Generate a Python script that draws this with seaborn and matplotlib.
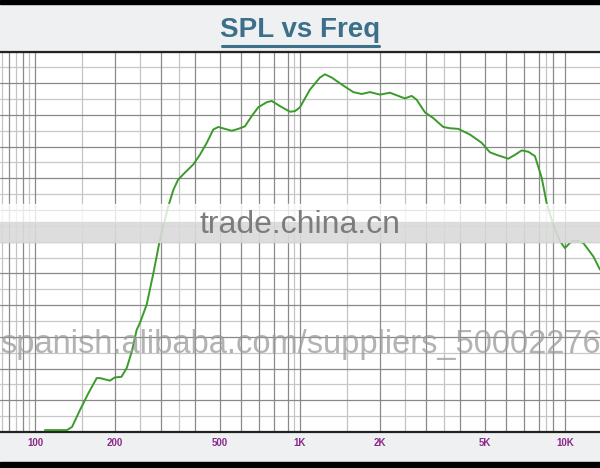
import matplotlib
matplotlib.use("Agg")
import matplotlib.pyplot as plt
import seaborn as sns
import pandas as pd
from matplotlib.ticker import FixedLocator, FixedFormatter, NullFormatter
from matplotlib.lines import Line2D
from matplotlib.patches import Rectangle

# ---------------- data ----------------
freq_hz = [109, 132, 138, 148, 159, 171, 176, 192, 200, 212, 222, 232, 242, 249,
           264, 280, 296, 318, 333, 347, 368, 396, 419, 445, 471, 492, 521, 553,
           585, 620, 657, 696, 749, 782, 840, 917, 958, 1000, 1091, 1190, 1243,
           1317, 1437, 1589, 1709, 1837, 2004, 2186, 2349, 2490, 2639, 2756,
           2963, 3184, 3473, 3681, 3957, 4381, 4850, 5212, 5525, 6110, 6477,
           6866, 7268, 7704, 8170, 8530, 9030, 9575, 10000, 10600, 11220, 11730,
           12790, 13560]
spl_db = [40.3, 40.3, 40.8, 43.5, 46.1, 48.5, 48.5, 48.1, 48.6, 48.7, 50.1, 52.7,
          56.1, 57.2, 60.1, 65.1, 70.3, 75.5, 78.2, 79.8, 80.9, 82.2, 83.7, 85.6,
          87.7, 88.1, 87.8, 87.5, 87.8, 88.2, 89.8, 91.2, 92.0, 92.2, 91.4, 90.5,
          90.6, 91.2, 94.0, 95.9, 96.4, 95.9, 94.8, 93.6, 93.3, 93.6, 93.2, 93.5,
          93.0, 92.6, 93.0, 92.4, 90.4, 89.5, 88.1, 87.9, 87.8, 86.9, 85.6, 84.1,
          83.7, 83.1, 83.7, 84.4, 84.2, 83.5, 80.1, 76.1, 72.7, 70.1, 69.0, 70.1,
          70.1, 69.8, 67.7, 65.6]

x_tick_values = [100, 200, 500, 1000, 2000, 5000, 10000]
x_tick_labels = ["100", "200", "500", "1K", "2K", "5K", "10K"]
grid_major_hz = [80, 90, 100, 200, 300, 400, 500, 600, 700, 800, 900, 1000,
                 2000, 3000, 4000, 5000, 6000, 7000, 8000, 9000, 10000]
grid_minor_hz = [75, 85, 95, 150, 250, 350, 950, 1500, 2500, 3500, 8500]
y_major_db = [40, 45, 50, 55, 60, 65, 70, 75, 80, 85, 90, 95, 100]
y_minor_db = [42.5, 47.5, 52.5, 57.5, 62.5, 67.5, 72.5, 77.5, 82.5, 87.5, 92.5, 97.5]
title_text = "SPL vs Freq"
watermark_1 = "trade.china.cn"
watermark_2 = "spanish.alibaba.com/suppliers_50002276"

# ---------------- style ----------------
sns.set_theme(style="white")
plt.rcParams["font.family"] = ["Liberation Sans", "DejaVu Sans"]

W, H = 600, 468
fig = plt.figure(figsize=(6, 4.68), dpi=100, facecolor="#eef0f1")

def fy(py):
    return 1 - py / H

ax = fig.add_axes([0, fy(432), 1, (432 - 51.5) / H])
ax.set_facecolor("white")

df = pd.DataFrame({"freq": freq_hz, "spl": spl_db})
sns.lineplot(data=df, x="freq", y="spl", ax=ax, color="#3a9b2a",
             linewidth=1.4, zorder=6, estimator=None)

ax.set_xscale("log")
ax.set_xlim(73.8, 13560)
ax.set_ylim(40, 100)

# vertical grid
for f in grid_minor_hz:
    ax.axvline(f, color="#c4c4c4", lw=0.9, zorder=1)
for f in grid_major_hz:
    ax.axvline(f, color="#8a8a8a", lw=0.9, zorder=2)
# horizontal grid
for v in y_minor_db:
    ax.axhline(v, color="#c8c8c8", lw=0.9, zorder=1)
for v in y_major_db:
    ax.axhline(v, color="#888888", lw=0.9, zorder=2)

ax.xaxis.set_major_locator(FixedLocator(x_tick_values))
ax.xaxis.set_major_formatter(FixedFormatter(x_tick_labels))
ax.xaxis.set_minor_locator(FixedLocator([]))
ax.xaxis.set_minor_formatter(NullFormatter())
ax.set_yticks([])
ax.tick_params(axis="x", length=0, pad=4, labelsize=7, labelcolor="#8a2a8c")
for lbl in ax.get_xticklabels():
    lbl.set_fontweight("bold")
ax.set_xlabel("")
ax.set_ylabel("")
ax.grid(False)

for side in ["left", "right"]:
    ax.spines[side].set_visible(False)
for side in ["top", "bottom"]:
    ax.spines[side].set_visible(True)
    ax.spines[side].set_color("#222222")
    ax.spines[side].set_linewidth(1.6)
    ax.spines[side].set_zorder(5)

# title with underline
fig.text(0.5, fy(30), title_text, ha="center", va="center", fontsize=20,
         fontweight="bold", color="#3b6f8a")
fig.add_artist(Line2D([222 / W, 379 / W], [fy(46), fy(46)], color="#3b6f8a",
                      lw=2.2, transform=fig.transFigure))

# black frame bars
fig.add_artist(Rectangle((0, fy(4)), 1, 4 / H, transform=fig.transFigure,
                         color="black", zorder=10))
fig.add_artist(Rectangle((0, 0), 1, 6 / H, transform=fig.transFigure,
                         color="black", zorder=10))

# watermark band + texts
fig.add_artist(Rectangle((0, fy(222)), 1, 18 / H, transform=fig.transFigure,
                         color="white", alpha=0.8, zorder=5))
fig.add_artist(Rectangle((0, fy(242)), 1, 20 / H, transform=fig.transFigure,
                         color="#dadada", alpha=0.9, zorder=5))
fig.text(0.5, fy(225), watermark_1, ha="center", va="center", fontsize=23,
         color="#7c7c7c", zorder=6)
fig.text(0.0, fy(353), watermark_2, ha="left", va="baseline", fontsize=23.5,
         color="#9a9a9a", alpha=0.75, zorder=6)

fig.savefig("out.png", dpi=100, facecolor=fig.get_facecolor())
